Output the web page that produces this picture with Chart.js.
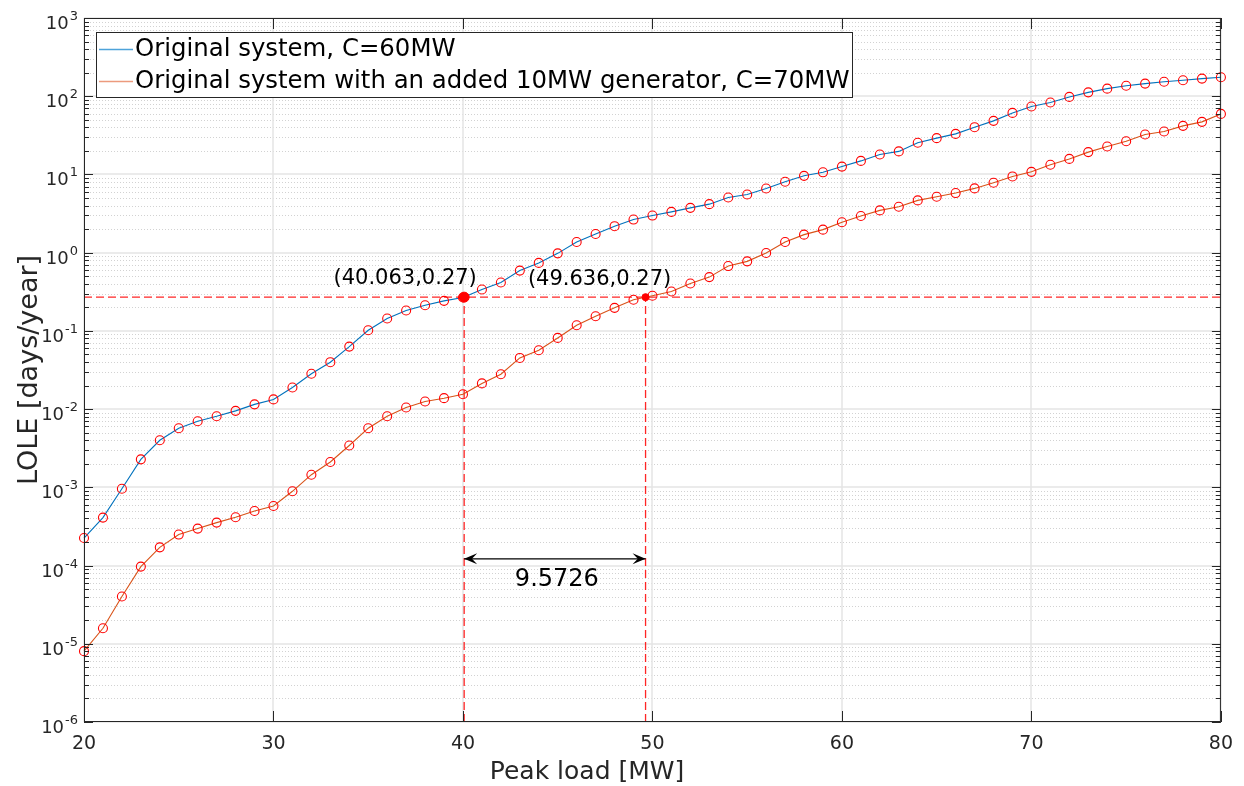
<!DOCTYPE html>
<html>
<head>
<meta charset="utf-8">
<title>LOLE vs peak load</title>
<script src="https://cdn.jsdelivr.net/npm/chart.js@4.4.1/dist/chart.umd.min.js"></script>
<style>
  html, body { margin: 0; padding: 0; background: #fff; }
  #wrap { position: relative; width: 1244px; height: 786px; }
</style>
</head>
<body>
<div id="wrap"><canvas id="loleChart"></canvas></div>
<script>
// Peak load steps [MW]
const peakLoad = [
  20, 21, 22, 23, 24, 25, 26, 27, 28, 29,
  30, 31, 32, 33, 34, 35, 36, 37, 38, 39,
  40, 41, 42, 43, 44, 45, 46, 47, 48, 49,
  50, 51, 52, 53, 54, 55, 56, 57, 58, 59,
  60, 61, 62, 63, 64, 65, 66, 67, 68, 69,
  70, 71, 72, 73, 74, 75, 76, 77, 78, 79, 80
];

// LOLE [days/year], original system (C = 60 MW)
const loleC60 = [
  2.25e-4, 4.1e-4, 9.6e-4, 2.28e-3, 4.0e-3, 5.7e-3, 7.0e-3, 8.1e-3, 9.5e-3, 0.0115,
  0.0133, 0.0189, 0.0283, 0.0398, 0.063, 0.102, 0.144, 0.182, 0.213, 0.242,
  0.267, 0.338, 0.415, 0.59, 0.74, 0.98, 1.37, 1.73, 2.18, 2.65,
  2.98, 3.32, 3.74, 4.17, 5.07, 5.54, 6.62, 8.06, 9.6, 10.65,
  12.6, 14.9, 18.0, 19.7, 25.4, 29.1, 33.0, 40.2, 48.4, 61.2,
  73.8, 83.0, 98, 112, 125, 136, 145, 153, 160, 168, 175
];

// LOLE [days/year], with the extra 10 MW unit (C = 70 MW)
const loleC70 = [
  8.05e-6, 1.58e-5, 4.02e-5, 9.7e-5, 1.71e-4, 2.49e-4, 2.97e-4, 3.54e-4, 4.14e-4, 4.99e-4,
  5.78e-4, 8.9e-4, 1.45e-3, 2.11e-3, 3.43e-3, 5.7e-3, 8.1e-3, 0.0105, 0.0125, 0.0138,
  0.0155, 0.0213, 0.0279, 0.0451, 0.0565, 0.0813, 0.118, 0.154, 0.197, 0.25,
  0.281, 0.319, 0.404, 0.487, 0.674, 0.774, 0.99, 1.37, 1.70, 1.97,
  2.45, 2.94, 3.47, 3.86, 4.66, 5.19, 5.78, 6.63, 7.83, 9.43,
  10.8, 13.3, 15.8, 19.3, 22.8, 26.6, 32.4, 35.4, 41.8, 47.0, 59.4
];

const seriesLabels = [
  "Original system, C=60MW",
  "Original system with an added 10MW generator, C=70MW"
];

// Risk criterion and the loads where each curve crosses it
const targetLole = 0.27;
const crossLoads = [40.063, 49.636];
const loadGap = 9.5726;
const arrowLole = 1.22e-4;

const xTicks = [20, 30, 40, 50, 60, 70, 80];
const yDecades = [-6, -5, -4, -3, -2, -1, 0, 1, 2, 3];

const FONT = "'DejaVu Sans', Verdana, sans-serif";
const AXIS_COLOR = "#262626";
const RED = "#ff0000";

function toPoints(xs, ys) {
  return xs.map((x, i) => ({ x, y: ys[i] }));
}

function strokeLine(ctx, x1, y1, x2, y2) {
  ctx.beginPath();
  ctx.moveTo(x1, y1);
  ctx.lineTo(x2, y2);
  ctx.stroke();
}

function drawArrowHead(ctx, tipX, tipY, dir) {
  // dir = -1 points left, +1 points right
  const len = 13;
  const half = 5.5;
  ctx.beginPath();
  ctx.moveTo(tipX, tipY);
  ctx.lineTo(tipX - dir * len, tipY - half);
  ctx.lineTo(tipX - dir * len * 0.6, tipY);
  ctx.lineTo(tipX - dir * len, tipY + half);
  ctx.closePath();
  ctx.fill();
}

const matlabFrame = {
  id: "matlabFrame",
  beforeDatasetsDraw(chart) {
    const { ctx, chartArea: a, scales: { x, y } } = chart;
    ctx.save();

    // minor log grid, dotted
    ctx.strokeStyle = "#d2d2d2";
    ctx.lineWidth = 1;
    ctx.setLineDash([1, 2]);
    yDecades.slice(0, -1).forEach((e) => {
      for (let k = 2; k <= 9; k++) {
        const py = Math.round(y.getPixelForValue(k * Math.pow(10, e))) + 0.5;
        strokeLine(ctx, a.left, py, a.right, py);
      }
    });

    // major grid
    ctx.setLineDash([]);
    ctx.strokeStyle = "#e4e4e4";
    ctx.lineWidth = 1.5;
    yDecades.forEach((e) => {
      const py = Math.round(y.getPixelForValue(Math.pow(10, e)));
      strokeLine(ctx, a.left, py, a.right, py);
    });
    xTicks.forEach((v) => {
      const px = Math.round(x.getPixelForValue(v));
      strokeLine(ctx, px, a.top, px, a.bottom);
    });
    ctx.restore();
  },
  afterDraw(chart) {
    const { ctx, chartArea: a, scales: { x, y } } = chart;
    ctx.save();

    // axes box
    ctx.strokeStyle = AXIS_COLOR;
    ctx.lineWidth = 1;
    ctx.strokeRect(a.left + 0.5, a.top + 0.5, a.right - a.left - 1, a.bottom - a.top - 1);

    // tick marks pointing inward
    yDecades.forEach((e, idx) => {
      const py = Math.round(y.getPixelForValue(Math.pow(10, e))) + 0.5;
      strokeLine(ctx, a.left, py, a.left + 9, py);
      strokeLine(ctx, a.right, py, a.right - 9, py);
      if (idx < yDecades.length - 1) {
        for (let k = 2; k <= 9; k++) {
          const pm = Math.round(y.getPixelForValue(k * Math.pow(10, e))) + 0.5;
          strokeLine(ctx, a.left, pm, a.left + 5, pm);
          strokeLine(ctx, a.right, pm, a.right - 5, pm);
        }
      }
    });
    xTicks.forEach((v) => {
      const px = Math.round(x.getPixelForValue(v)) + 0.5;
      strokeLine(ctx, px, a.bottom, px, a.bottom - 11);
      strokeLine(ctx, px, a.top, px, a.top + 11);
    });

    // y tick labels as 10 with superscript exponent
    ctx.fillStyle = AXIS_COLOR;
    ctx.textBaseline = "alphabetic";
    yDecades.forEach((e) => {
      const py = y.getPixelForValue(Math.pow(10, e));
      const expText = String(e);
      ctx.font = "13px " + FONT;
      const expWidth = ctx.measureText(expText).width;
      ctx.textAlign = "right";
      ctx.fillText(expText, 78, py + 2);
      ctx.font = "18px " + FONT;
      ctx.fillText("10", 78 - expWidth - 1, py + 11);
    });

    // axis titles
    ctx.textAlign = "center";
    ctx.textBaseline = "middle";
    ctx.font = "25px " + FONT;
    ctx.fillText("Peak load [MW]", 587, 772);
    ctx.save();
    ctx.translate(30, (a.top + a.bottom) / 2);
    ctx.rotate(-Math.PI / 2);
    ctx.font = "27px " + FONT;
    ctx.fillText("LOLE [days/year]", 0, 0);
    ctx.restore();

    // crossing labels
    const p1x = x.getPixelForValue(crossLoads[0]);
    const p2x = x.getPixelForValue(crossLoads[1]);
    const pTy = y.getPixelForValue(targetLole);
    ctx.fillStyle = "#000";
    ctx.font = "21px " + FONT;
    ctx.textAlign = "center";
    ctx.textBaseline = "middle";
    ctx.fillText("(" + crossLoads[0] + "," + targetLole + ")", p1x - 59, pTy - 19);
    ctx.fillText("(" + crossLoads[1] + "," + targetLole + ")", p2x - 46, pTy - 18);

    // double arrow heads and gap value
    const ay = y.getPixelForValue(arrowLole);
    drawArrowHead(ctx, p1x, ay, -1);
    drawArrowHead(ctx, p2x, ay, 1);
    ctx.font = "24px " + FONT;
    ctx.fillText(String(loadGap), (p1x + p2x) / 2 + 2, ay + 21);

    // legend box
    const lx = 96, ly = 32, lw = 756, lh = 65;
    ctx.fillStyle = "#fff";
    ctx.fillRect(lx, ly, lw, lh);
    ctx.strokeStyle = AXIS_COLOR;
    ctx.lineWidth = 1;
    ctx.strokeRect(lx + 0.5, ly + 0.5, lw, lh);
    const legendColors = ["#4ea3da", "#ec9a7d"];
    const rows = [49, 81];
    ctx.font = "24.4px " + FONT;
    ctx.textAlign = "left";
    ctx.textBaseline = "middle";
    rows.forEach((ry, i) => {
      ctx.strokeStyle = legendColors[i];
      ctx.lineWidth = 1.5;
      strokeLine(ctx, 99, ry + 0.5, 133, ry + 0.5);
      ctx.fillStyle = "#000";
      ctx.fillText(seriesLabels[i], 135, ry + 1);
    });

    ctx.restore();
  }
};

const markerStyle = {
  pointStyle: "circle",
  pointRadius: 4.5,
  pointHoverRadius: 4.5,
  pointBorderColor: RED,
  pointBackgroundColor: "rgba(0,0,0,0)",
  pointBorderWidth: 1.1,
  clip: false
};

const refLine = {
  borderColor: "rgba(255,0,0,0.85)",
  borderDash: [8, 4],
  borderWidth: 1.3,
  pointRadius: 0,
  pointHoverRadius: 0,
  order: 3
};

new Chart(document.getElementById("loleChart"), {
  type: "line",
  data: {
    datasets: [
      {
        label: seriesLabels[0],
        data: toPoints(peakLoad, loleC60),
        borderColor: "#0072bd",
        borderWidth: 1.1,
        ...markerStyle,
        order: 1
      },
      {
        label: seriesLabels[1],
        data: toPoints(peakLoad, loleC70),
        borderColor: "#d95319",
        borderWidth: 1.1,
        ...markerStyle,
        order: 1
      },
      {
        label: "criterion",
        data: [{ x: 20, y: targetLole }, { x: 80, y: targetLole }],
        ...refLine
      },
      {
        label: "cross C60",
        data: [{ x: crossLoads[0], y: 1e-6 }, { x: crossLoads[0], y: targetLole }],
        ...refLine
      },
      {
        label: "cross C70",
        data: [{ x: crossLoads[1], y: 1e-6 }, { x: crossLoads[1], y: targetLole }],
        ...refLine
      },
      {
        label: "gap",
        data: [{ x: crossLoads[0], y: arrowLole }, { x: crossLoads[1], y: arrowLole }],
        borderColor: "#000",
        borderWidth: 1.3,
        pointRadius: 0,
        pointHoverRadius: 0,
        order: 2
      },
      {
        label: "point C60",
        data: [{ x: crossLoads[0], y: targetLole }],
        showLine: false,
        pointRadius: 5,
        pointBackgroundColor: RED,
        pointBorderColor: RED,
        order: 0
      },
      {
        label: "point C70",
        data: [{ x: crossLoads[1], y: targetLole }],
        showLine: false,
        pointRadius: 3.5,
        pointBackgroundColor: RED,
        pointBorderColor: RED,
        order: 0
      }
    ]
  },
  options: {
    responsive: true,
    maintainAspectRatio: false,
    animation: false,
    events: [],
    layout: { padding: { top: 18, right: 22, left: 0, bottom: 0 } },
    plugins: {
      legend: { display: false },
      tooltip: { enabled: false }
    },
    scales: {
      x: {
        type: "linear",
        min: 20,
        max: 80,
        afterFit(scale) { scale.height = 64; },
        afterBuildTicks(scale) { scale.ticks = xTicks.map((v) => ({ value: v })); },
        grid: { display: false, drawTicks: false },
        border: { display: false },
        ticks: {
          color: AXIS_COLOR,
          font: { family: FONT, size: 19 },
          padding: 11,
          maxRotation: 0
        },
        title: { display: false }
      },
      y: {
        type: "logarithmic",
        min: 1e-6,
        max: 1e3,
        afterFit(scale) { scale.width = 84; },
        grid: { display: false, drawTicks: false },
        border: { display: false },
        ticks: { display: false },
        title: { display: false }
      }
    }
  },
  plugins: [matlabFrame]
});
</script>
</body>
</html>
